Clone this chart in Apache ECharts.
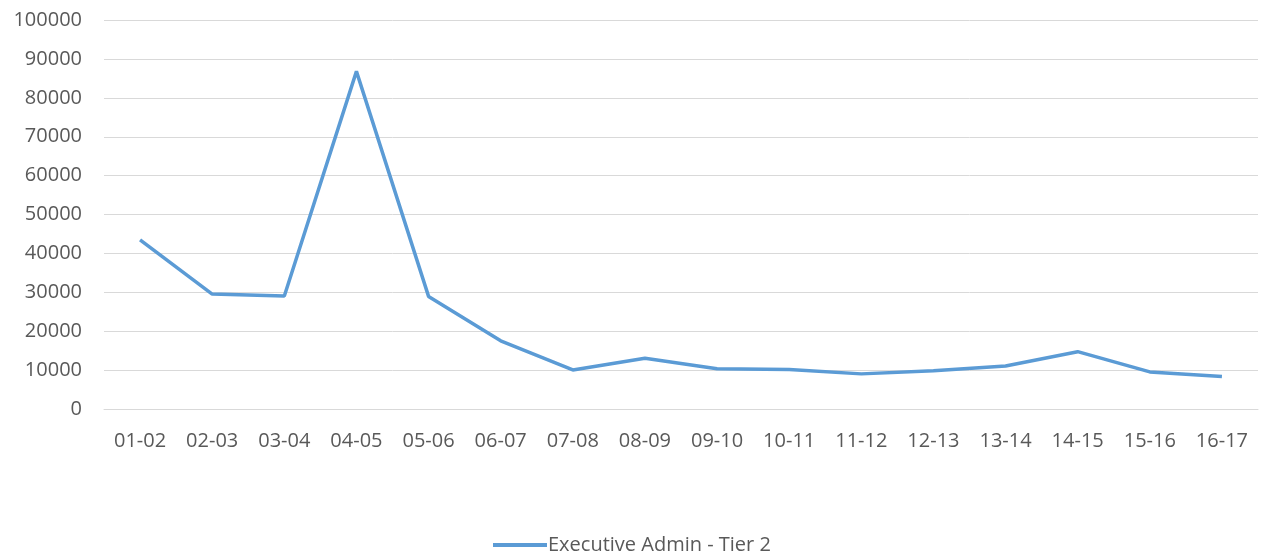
<!DOCTYPE html>
<html><head><meta charset="utf-8">
<script src="https://cdn.jsdelivr.net/npm/echarts@6/dist/echarts.min.js"></script>
<style>html,body{margin:0;padding:0;background:#fff}#c{width:1261px;height:555px}</style>
</head><body><div id="c"></div>
<script>
const categories = ['01-02','02-03','03-04','04-05','05-06','06-07','07-08','08-09','09-10','10-11','11-12','12-13','13-14','14-15','15-16','16-17'];
const values = [43500, 29600, 29100, 86800, 29000, 17600, 10100, 13100, 10400, 10200, 9100, 9900, 11100, 14800, 9600, 8400];
const seriesName = 'Executive Admin - Tier 2';
const yTicks = {min: 0, max: 100000, interval: 10000};

const chart = echarts.init(document.getElementById('c'));
chart.setOption({
  animation: false,
  textStyle: {fontFamily: '"Open Sans", "Noto Sans", sans-serif'},
  grid: {left: 104, right: 3, top: 20, bottom: 145.7, containLabel: false},
  xAxis: {
    type: 'category', data: categories, boundaryGap: true,
    axisLine: {lineStyle: {color: '#D9D9D9', width: 1}},
    axisTick: {show: false},
    axisLabel: {color: '#595959', fontSize: 20, margin: 22, fontFamily: '"Open Sans", sans-serif'}
  },
  yAxis: {
    type: 'value', min: yTicks.min, max: yTicks.max, interval: yTicks.interval,
    axisLine: {show: false}, axisTick: {show: false},
    axisLabel: {color: '#595959', fontSize: 20, margin: 22, fontFamily: '"Open Sans", sans-serif',
      formatter: function (v) { return String(v); }},
    splitLine: {lineStyle: {color: '#D9D9D9', width: 1}}
  },
  legend: {
    top: 530, left: 488,
    itemWidth: 54, itemHeight: 4, itemGap: 10,
    icon: 'rect',
    textStyle: {color: '#595959', fontSize: 20, padding: [0,0,0,-4], fontFamily: '"Open Sans", sans-serif'},
    data: [seriesName]
  },
  series: [{
    name: seriesName, type: 'line', data: values,
    showSymbol: false, symbol: 'none',
    lineStyle: {color: '#5B9BD5', width: 3.5},
    itemStyle: {color: '#5B9BD5'}
  }]
});
</script></body></html>
